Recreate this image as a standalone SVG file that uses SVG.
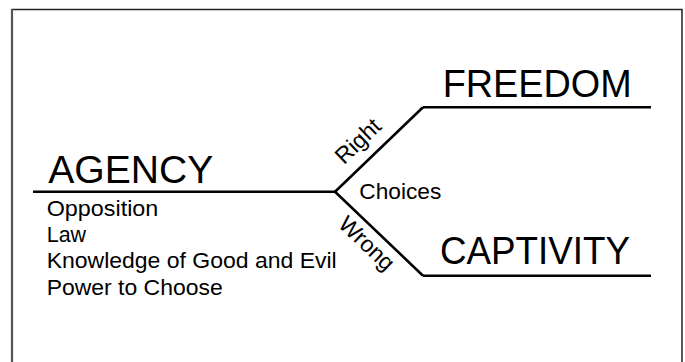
<svg xmlns="http://www.w3.org/2000/svg" width="685" height="362" viewBox="0 0 685 362">
<style>
.t{font-family:"Liberation Sans",Arial,Helvetica,sans-serif;fill:#000}
.big{font-size:38px}
.sm{font-size:22px}
.lab{font-size:23px}
.ln{fill:none;stroke:#000;stroke-width:2.6;stroke-linejoin:miter}
</style>
<rect x="0" y="0" width="685" height="362" fill="#fff"/>
<rect x="12" y="9.5" width="670" height="360" fill="none" stroke="#222" stroke-width="1.5"/>
<line x1="12" y1="9" x2="12" y2="362" stroke="#555" stroke-width="2.2"/>
<g id="agency">
<text class="t big" x="48.3" y="183.3" textLength="165" lengthAdjust="spacingAndGlyphs">AGENCY</text>
<line class="ln" x1="33" y1="191.7" x2="335" y2="191.7"/>
</g>
<g id="agency-list">
<text class="t sm" x="46.7" y="215.5" textLength="111.6" lengthAdjust="spacingAndGlyphs">Opposition</text>
<text class="t sm" x="46.7" y="241.5" textLength="39.4" lengthAdjust="spacingAndGlyphs">Law</text>
<text class="t sm" x="46.7" y="268" textLength="290" lengthAdjust="spacingAndGlyphs">Knowledge of Good and Evil</text>
<text class="t sm" x="46.7" y="294.5" textLength="176" lengthAdjust="spacingAndGlyphs">Power to Choose</text>
</g>
<g id="freedom">
<text class="t big" x="442.7" y="96.7" textLength="189" lengthAdjust="spacingAndGlyphs">FREEDOM</text>
<line class="ln" x1="423" y1="107.3" x2="651" y2="107.3"/>
</g>
<g id="captivity">
<text class="t big" x="440" y="264.3" textLength="190" lengthAdjust="spacingAndGlyphs">CAPTIVITY</text>
<line class="ln" x1="423" y1="275.7" x2="651" y2="275.7"/>
</g>
<g id="choices">
<text class="t sm" x="359.3" y="199" textLength="82" lengthAdjust="spacingAndGlyphs">Choices</text>
</g>
<g id="connectors">
<path class="ln" d="M423,107.3 L335,191.7 L423,275.7"/>
<text class="t lab" text-anchor="middle" transform="translate(363.3,146.6) rotate(-43.8)">Right</text>
<text class="t lab" text-anchor="middle" transform="translate(361.4,248.9) rotate(43.7)">Wrong</text>
</g>
</svg>
